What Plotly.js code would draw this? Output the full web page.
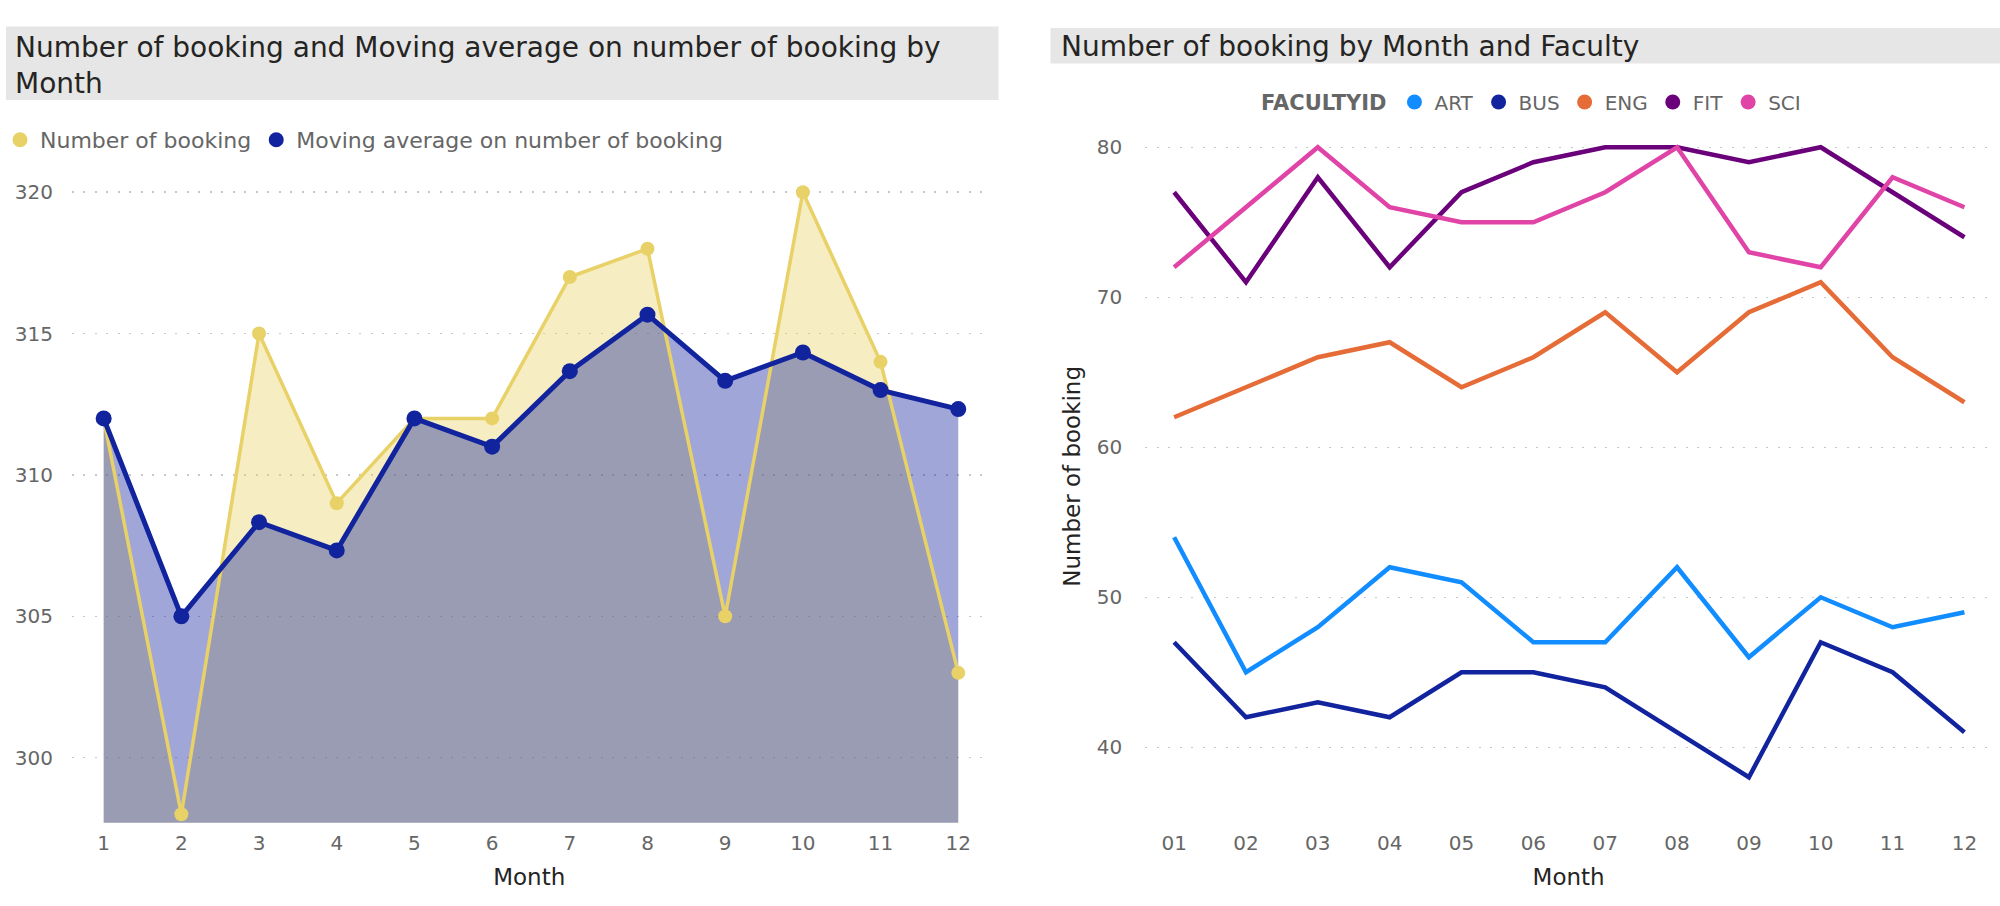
<!DOCTYPE html>
<html>
<head>
<meta charset="utf-8">
<script src="https://cdn.plot.ly/plotly-3.0.1.min.js"></script>
<style>
html,body{margin:0;padding:0;background:#ffffff;}
#chart{width:2000px;height:906px;}
</style>
</head>
<body>
<div id="chart"></div>
<script>
// ---------- data ----------
const months = [1,2,3,4,5,6,7,8,9,10,11,12];
const monthTickLabels = ['1','2','3','4','5','6','7','8','9','10','11','12'];
const numberOfBooking = [312,298,315,309,312,312,317,318,305,320,314,303];
const movingAverage = [312,305,308.33,307.33,312,311,313.67,315.67,313.33,314.33,313,312.33];

const facultyMonths = ['01','02','03','04','05','06','07','08','09','10','11','12'];
const faculties = ['ART','BUS','ENG','FIT','SCI'];
const artBookings = [54,45,48,52,51,47,47,52,46,50,48,49];
const busBookings = [47,42,43,42,45,45,44,41,38,47,45,41];
const engBookings = [62,64,66,67,64,66,69,65,69,71,66,63];
const fitBookings = [77,71,78,72,77,79,80,80,79,80,77,74];
const sciBookings = [72,76,80,76,75,75,77,80,73,72,78,76];

// ---------- styling ----------
const W = 2000, H = 906;
const px = v => v / W;
const py = v => 1 - v / H;
const FONT = '"DejaVu Sans", "Open Sans", sans-serif';
const TICK_COLOR = '#666666';
const DARK = '#252423';
const YELLOW = '#E8D166', BLUE = '#12239E';
const facultyColors = ['#118DFF', '#12239E', '#E66C37', '#6B007B', '#E044A7'];
const facultySeries = [artBookings, busBookings, engBookings, fitBookings, sciBookings];

const traces = [];
// left chart: areas first, then lines
traces.push({x: months, y: numberOfBooking, xaxis: 'x', yaxis: 'y', mode: 'lines', line: {width: 0, color: YELLOW},
  fill: 'tozeroy', fillcolor: 'rgba(232,209,102,0.4)', showlegend: false, hoverinfo: 'skip'});
traces.push({x: months, y: movingAverage, xaxis: 'x', yaxis: 'y', mode: 'lines', line: {width: 0, color: BLUE},
  fill: 'tozeroy', fillcolor: 'rgba(18,35,158,0.4)', showlegend: false, hoverinfo: 'skip'});
traces.push({x: months, y: numberOfBooking, xaxis: 'x', yaxis: 'y', mode: 'lines+markers', name: 'Number of booking',
  line: {width: 3.5, color: YELLOW}, marker: {size: 14, color: YELLOW}, showlegend: false});
traces.push({x: months, y: movingAverage, xaxis: 'x', yaxis: 'y', mode: 'lines+markers', name: 'Moving average on number of booking',
  line: {width: 5, color: BLUE}, marker: {size: 16, color: BLUE}, showlegend: false});
// legend entries (circles) for left chart
traces.push({x: [null], y: [null], xaxis: 'x', yaxis: 'y', mode: 'markers', name: 'Number of booking',
  marker: {size: 15, color: YELLOW}, legend: 'legend'});
traces.push({x: [null], y: [null], xaxis: 'x', yaxis: 'y', mode: 'markers', name: 'Moving average on number of booking',
  marker: {size: 15, color: BLUE}, legend: 'legend'});

// right chart
faculties.forEach((f, i) => {
  traces.push({x: facultyMonths, y: facultySeries[i], xaxis: 'x2', yaxis: 'y2', mode: 'lines', name: f,
    line: {width: 4.5, color: facultyColors[i]}, showlegend: false});
});
faculties.forEach((f, i) => {
  traces.push({x: [null], y: [null], xaxis: 'x2', yaxis: 'y2', mode: 'markers', name: f,
    marker: {size: 15, color: facultyColors[i]}, legend: 'legend2'});
});

const gridStyle = {gridcolor: '#c8c8c8', gridwidth: 1.5, griddash: '2px,9.5px'};

const layout = {
  width: W, height: H,
  margin: {l: 0, r: 0, t: 0, b: 0, pad: 0},
  paper_bgcolor: '#ffffff', plot_bgcolor: 'rgba(0,0,0,0)',
  font: {family: FONT, color: TICK_COLOR, size: 20},
  showlegend: true,
  xaxis: {
    domain: [px(69), px(985)], range: [0.591, 12.364], anchor: 'y',
    tickmode: 'array', tickvals: months, ticktext: monthTickLabels,
    showgrid: false, zeroline: false, showline: false, ticks: '',
    tickfont: {size: 20, color: TICK_COLOR}, ticklabelstandoff: 6,
    title: {text: 'Month', font: {size: 23, color: DARK}, standoff: 15}
  },
  yaxis: Object.assign({
    domain: [py(822.7), py(130)], range: [297.7, 322.2], anchor: 'x',
    tick0: 300, dtick: 5, zeroline: false, showline: false, ticks: '',
    tickfont: {size: 20, color: TICK_COLOR}, ticklabelstandoff: 18
  }, gridStyle),
  xaxis2: {
    type: 'category', domain: [px(1144), px(1992)], range: [-0.4017, 11.384], anchor: 'y2',
    showgrid: false, zeroline: false, showline: false, ticks: '',
    tickfont: {size: 20, color: TICK_COLOR}, ticklabelstandoff: 6,
    title: {text: 'Month', font: {size: 23, color: DARK}, standoff: 15}
  },
  yaxis2: Object.assign({
    domain: [py(822.7), py(130)], range: [34.97, 81.15], anchor: 'x2',
    tick0: 0, dtick: 10, zeroline: false, showline: false, ticks: '',
    tickfont: {size: 20, color: TICK_COLOR}, ticklabelstandoff: 22,
    title: {text: 'Number of booking', font: {size: 23, color: DARK}, standoff: 9}
  }, gridStyle),
  legend: {
    orientation: 'h', x: px(-3), xanchor: 'left', y: py(140), yanchor: 'middle',
    font: {size: 22, color: TICK_COLOR}, bgcolor: 'rgba(0,0,0,0)', borderwidth: 0,
    itemclick: false, itemdoubleclick: false
  },
  legend2: {
    orientation: 'h', x: px(1258), xanchor: 'left', y: py(102), yanchor: 'middle',
    font: {size: 20, color: TICK_COLOR}, bgcolor: 'rgba(0,0,0,0)', borderwidth: 0,
    title: {text: '<b>FACULTYID</b>', side: 'left', font: {size: 21, color: TICK_COLOR}},
    itemclick: false, itemdoubleclick: false
  },
  shapes: [
    {type: 'rect', xref: 'paper', yref: 'paper', x0: px(3), x1: px(997), y0: py(100), y1: py(26.5),
      fillcolor: '#e6e6e6', line: {width: 0}, layer: 'below'},
    {type: 'rect', xref: 'paper', yref: 'paper', x0: px(1049), x1: px(2000), y0: py(63.5), y1: py(28),
      fillcolor: '#e6e6e6', line: {width: 0}, layer: 'below'}
  ],
  annotations: [
    {xref: 'paper', yref: 'paper', x: px(10), y: py(29), xanchor: 'left', yanchor: 'top', align: 'left',
      showarrow: false, text: 'Number of booking and Moving average on number of booking by<br>Month',
      font: {size: 28, color: DARK}},
    {xref: 'paper', yref: 'paper', x: px(1058), y: py(46), xanchor: 'left', yanchor: 'middle', align: 'left',
      showarrow: false, text: 'Number of booking by Month and Faculty',
      font: {size: 28, color: DARK}}
  ]
};

Plotly.newPlot('chart', traces, layout, {displayModeBar: false, staticPlot: true});
</script>
</body>
</html>
